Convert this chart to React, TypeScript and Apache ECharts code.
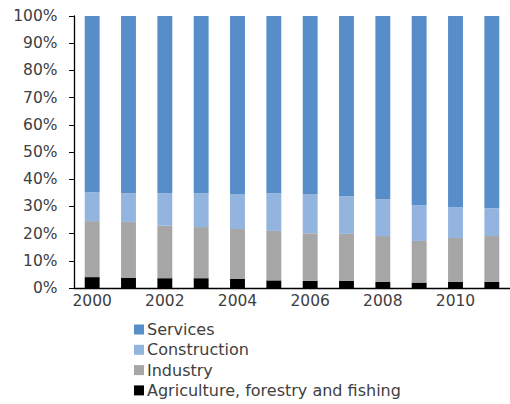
import React, { useEffect, useRef } from "react";
import * as echarts from "echarts";

const years = ["2000", "2001", "2002", "2003", "2004", "2005", "2006", "2007", "2008", "2009", "2010", "2011"];
const agriculture = [4.0, 3.8, 3.6, 3.6, 3.3, 2.8, 2.6, 2.6, 2.2, 2.0, 2.2, 2.2];
const industry = [20.6, 20.5, 19.3, 18.8, 18.4, 18.2, 17.5, 17.3, 16.9, 15.3, 16.2, 16.9];
const construction = [10.6, 10.6, 11.8, 12.3, 12.9, 13.7, 14.5, 13.9, 13.6, 13.2, 11.3, 10.2];
const services = [64.8, 65.1, 65.3, 65.3, 65.4, 65.3, 65.4, 66.2, 67.3, 69.5, 70.3, 70.7];

const FONT = "'DejaVu Sans', sans-serif";

export default function App() {
  const ref = useRef<HTMLDivElement>(null);
  useEffect(() => {
    if (!ref.current) return;
    const chart = echarts.init(ref.current, undefined, { renderer: "svg" });
    const mk = (name: string, data: number[], color: string) => ({
      name,
      type: "bar",
      stack: "total",
      data,
      barWidth: "41%",
      itemStyle: { color },
    });
    chart.setOption({
      animation: false,
      backgroundColor: "#ffffff",
      grid: { left: 74, top: 16, width: 440, height: 272, containLabel: false },
      xAxis: {
        type: "category",
        data: years,
        axisLine: { lineStyle: { color: "#000", width: 1.3 } },
        axisTick: { show: false },
        axisLabel: {
          interval: 1,
          margin: 5,
          color: "#404040",
          fontFamily: FONT,
          fontSize: 15.5,
        },
      },
      yAxis: {
        type: "value",
        min: 0,
        max: 100,
        interval: 10,
        splitLine: { show: false },
        axisLine: { show: true, lineStyle: { color: "#000", width: 1.3 } },
        axisTick: { show: true, length: 5, lineStyle: { color: "#000" } },
        axisLabel: {
          formatter: "{value}%",
          margin: 16.5,
          color: "#404040",
          fontFamily: FONT,
          fontSize: 15.5,
        },
      },
      legend: {
        orient: "vertical",
        left: 134,
        top: 321.5,
        padding: 0,
        itemWidth: 10,
        itemHeight: 10,
        itemGap: 4.3,
        icon: "rect",
        data: ["Services", "Construction", "Industry", "Agriculture, forestry and fishing"],
        textStyle: {
          color: "#404040",
          fontFamily: FONT,
          fontSize: 16,
          lineHeight: 16,
          padding: [0, 0, 0, -2],
        },
      },
      series: [
        mk("Agriculture, forestry and fishing", agriculture, "#000000"),
        mk("Industry", industry, "#A6A6A6"),
        mk("Construction", construction, "#93B4DF"),
        mk("Services", services, "#578ECA"),
      ],
    });
    return () => chart.dispose();
  }, []);
  return (
    <div
      ref={ref}
      style={{ position: "fixed", left: 0, top: 0, width: 510, height: 404, background: "#fff" }}
    />
  );
}
